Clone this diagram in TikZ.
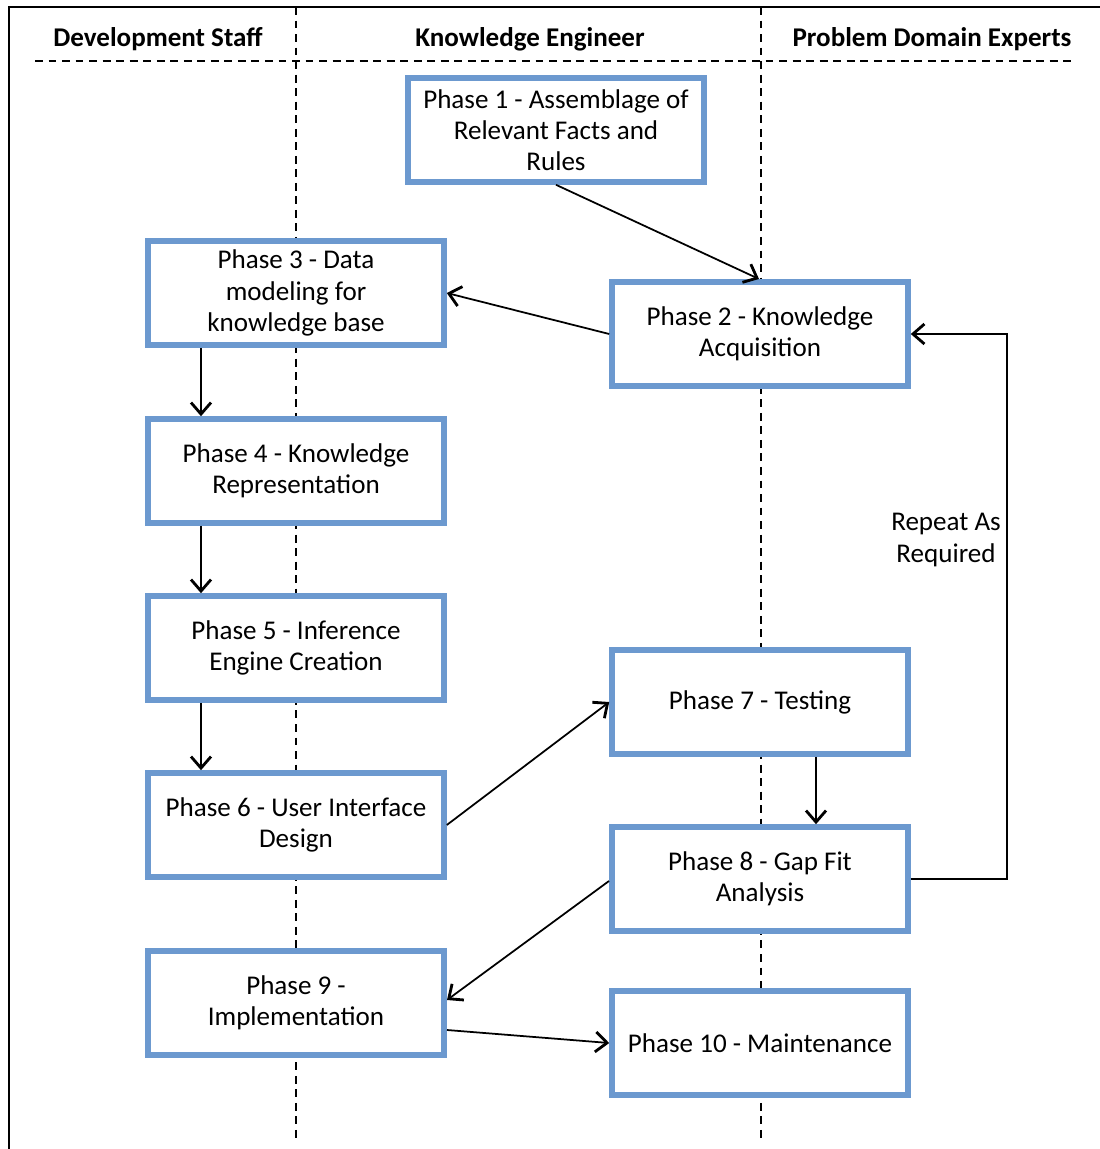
\documentclass[tikz,border=0pt]{standalone}
\usepackage{fontspec}
\setmainfont{Carlito}
\usetikzlibrary{arrows.meta}
\definecolor{boxblue}{RGB}{108,153,207}
\begin{document}
\begin{tikzpicture}[x=0.02cm,y=-0.02cm,
  phase/.style={draw=boxblue,line width=3.2pt,fill=white,minimum width=5.92cm,
    minimum height=2.08cm,align=center,font=\fontsize{15.4}{17.8}\selectfont,inner sep=2pt},
  lane/.style={font=\bfseries\fontsize{15.4}{18}\selectfont},
  divider/.style={line width=1pt,dash pattern=on 4.5pt off 3.2pt},
  flow/.style={line width=1pt,-{Straight Barb[length=2.3mm,width=4mm,line width=1.6pt]}},
  plainline/.style={line width=1pt}]
\useasboundingbox (0,0) rectangle (1099,1149);
% outer frame
\draw[line width=1.6pt] (9,1160) -- (9,7) -- (1110,7);
% swim lane dividers
\draw[divider] (296,7) -- (296,1140);
\draw[divider] (761,7) -- (761,1140);
\draw[divider] (35,61) -- (1076,61);
% lane headers
\node[lane] (hdev) at (158,39) {Development Staff};
\node[lane] (hke)  at (530,39) {Knowledge Engineer};
\node[lane] (hpde) at (932,39) {Problem Domain Experts};
% phases
\node[phase] (p1)  at (556,130)  {Phase 1 - Assemblage of\\Relevant Facts and\\Rules};
\node[phase] (p2)  at (760,334)  {Phase 2 - Knowledge\\Acquisition};
\node[phase] (p3)  at (296,293)  {Phase 3 - Data\\modeling for\\knowledge base};
\node[phase] (p4)  at (296,471)  {Phase 4 - Knowledge\\Representation};
\node[phase] (p5)  at (296,648)  {Phase 5 - Inference\\Engine Creation};
\node[phase] (p6)  at (296,825)  {Phase 6 - User Interface\\Design};
\node[phase] (p7)  at (760,702)  {Phase 7 - Testing};
\node[phase] (p8)  at (760,879)  {Phase 8 - Gap Fit\\Analysis};
\node[phase] (p9)  at (296,1003) {Phase 9 -\\Implementation};
\node[phase] (p10) at (760,1043) {Phase 10 - Maintenance};
\node[align=center,font=\fontsize{15.4}{17.8}\selectfont] (rep) at (946,540) {Repeat As\\Required};
% connectors
\coordinate (c1) at (759,279);
\draw[flow] (p1.south) -- (c1);
\draw[flow] (p2.west) -- (p3.east);
\draw[flow] (p3.south -| 201,0) -- (p4.north -| 201,0);
\draw[flow] (p4.south -| 201,0) -- (p5.north -| 201,0);
\draw[flow] (p5.south -| 201,0) -- (p6.north -| 201,0);
\draw[flow] (p6.east) -- (p7.west);
\draw[flow] (p7.south -| 816,0) -- (p8.north -| 816,0);
\coordinate (loopA) at (1007,879);
\coordinate (loopB) at (1007,334);
\draw[flow] (p8.east) -- (loopA) -- (loopB) -- (p2.east);
\coordinate (p8out) at (609,881);
\coordinate (p9in) at (447,1000);
\draw[flow] (p8out) -- (p9in);
\coordinate (p9out) at (447,1030);
\draw[flow] (p9out) -- (p10.west);
\end{tikzpicture}
\end{document}
